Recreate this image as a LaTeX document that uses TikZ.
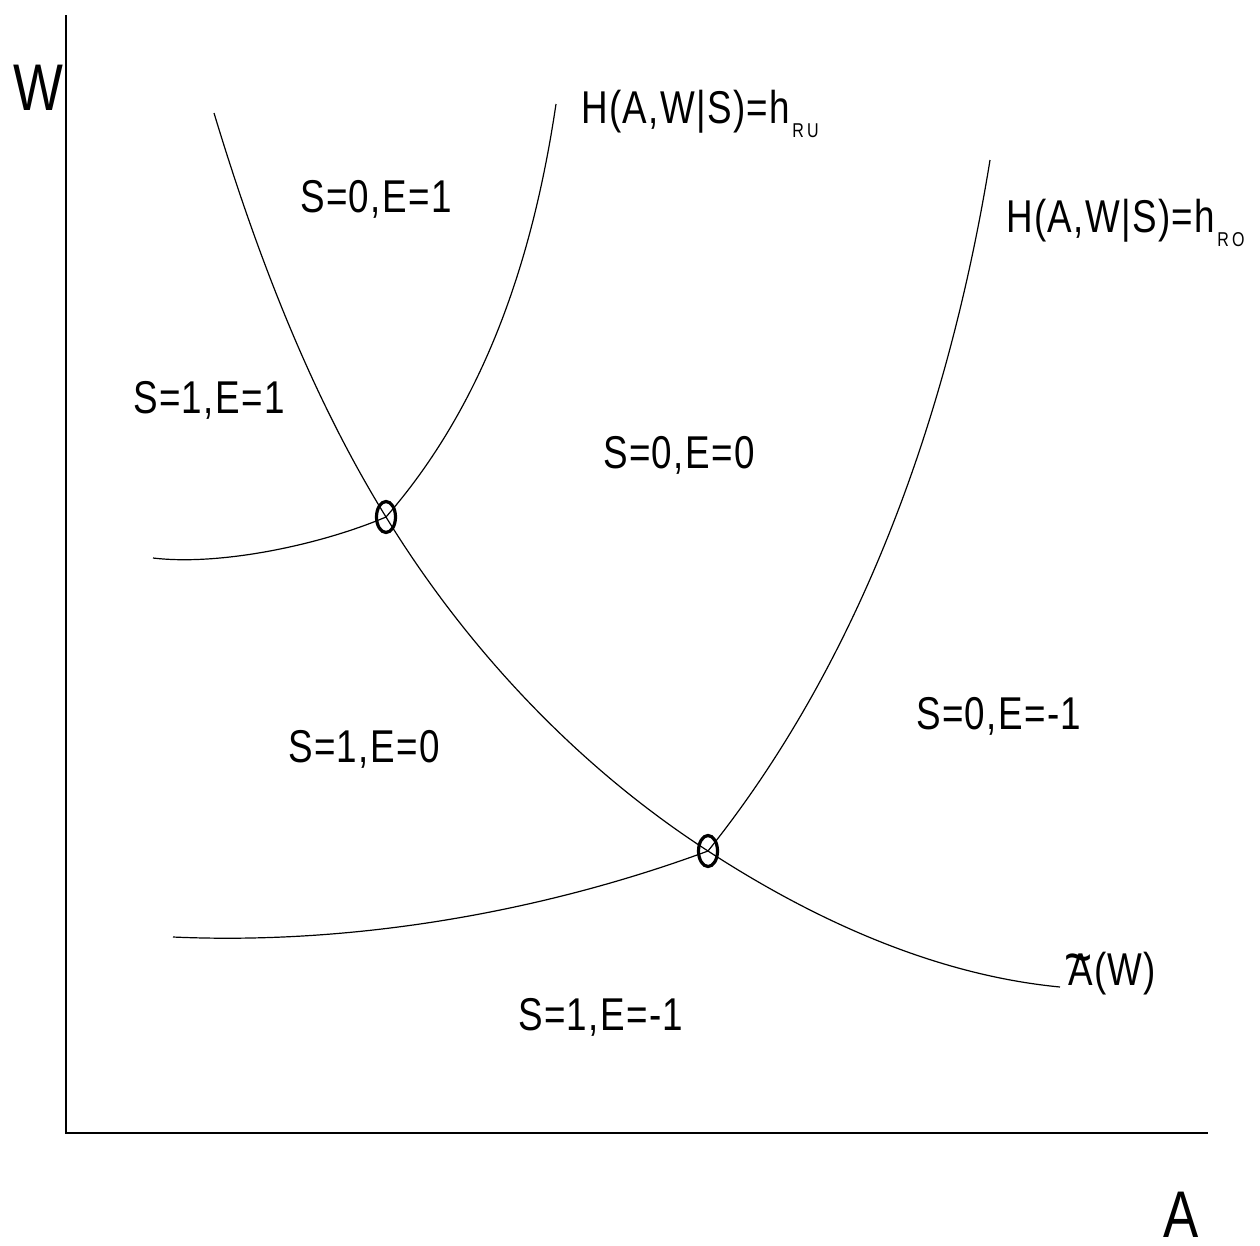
\documentclass[tikz,border=0pt]{standalone}
\usepackage{fontspec}
\setmainfont[FakeStretch=0.8,LetterSpace=3]{Liberation Sans}
\usetikzlibrary{shapes.geometric}
\begin{document}
\begin{tikzpicture}[x=1pt,y=-1pt,
  axis/.style={line width=1.2pt},
  curve/.style={line width=1.2pt},
  lbl/.style={anchor=base west, inner sep=0pt, font=\fontsize{46}{50}\selectfont},
  biglbl/.style={anchor=base west, inner sep=0pt, font=\fontsize{66}{70}\selectfont},
  ring/.style={draw, ellipse, line width=3.2pt, minimum width=19pt, minimum height=31pt, inner sep=0pt}]
\useasboundingbox (0,0) rectangle (1260,1245);
% axes
\coordinate (ytop) at (66,15);
\coordinate (orig) at (66,1133);
\coordinate (xend) at (1208,1133);
\draw[axis] (ytop) -- (orig) -- (xend);
\node[biglbl] (wlab) at (13,110) {W};
\node[biglbl] (alab) at (1163,1237) {A};
% curve end points and intersections
\coordinate (p1) at (386,517);
\coordinate (p2) at (708,851);
\coordinate (at) at (214,113);
\coordinate (ae) at (1060,987);
\coordinate (ru0) at (153,558);
\coordinate (ru1) at (556,104);
\coordinate (ro0) at (173,937);
\coordinate (ro1) at (990,160);
% A~(W) curve
\draw[curve] (at) .. controls (256,252) and (310,394) .. (p1)
  .. controls (467,649) and (578,767) .. (p2)
  .. controls (814,920) and (935,975) .. (ae);
% h_RU curve
\draw[curve] (ru0) .. controls (220,566) and (320,545) .. (p1)
  .. controls (488,400) and (534,252) .. (ru1);
% h_RO curve
\draw[curve] (ro0) .. controls (351,945) and (540,913) .. (p2)
  .. controls (864,656) and (950,407) .. (ro1);
\node[ring] (c1) at (p1) {};
\node[ring] (c2) at (p2) {};
% labels
\node[lbl] (hru) at (581,123) {H(A,W|S)=h\hspace{2pt}\raisebox{-14pt}{\fontsize{20}{22}\selectfont R\,U}};
\node[lbl] (hro) at (1006,232) {H(A,W|S)=h\hspace{2pt}\raisebox{-14pt}{\fontsize{20}{22}\selectfont R\,O}};
\node[lbl] (aw) at (1068,985) {\makebox[0pt][l]{\hspace{-4pt}\raisebox{8pt}{\fontsize{60}{60}\selectfont\textasciitilde}}A(W)};
\node[lbl] (r01) at (300,212) {S=0,E=1};
\node[lbl] (r11) at (133,413) {S=1,E=1};
\node[lbl] (r00) at (603,468) {S=0,E=0};
\node[lbl] (r10) at (288,762) {S=1,E=0};
\node[lbl] (r0m) at (916,729) {S=0,E=-1};
\node[lbl] (r1m) at (518,1030) {S=1,E=-1};
\end{tikzpicture}
\end{document}
